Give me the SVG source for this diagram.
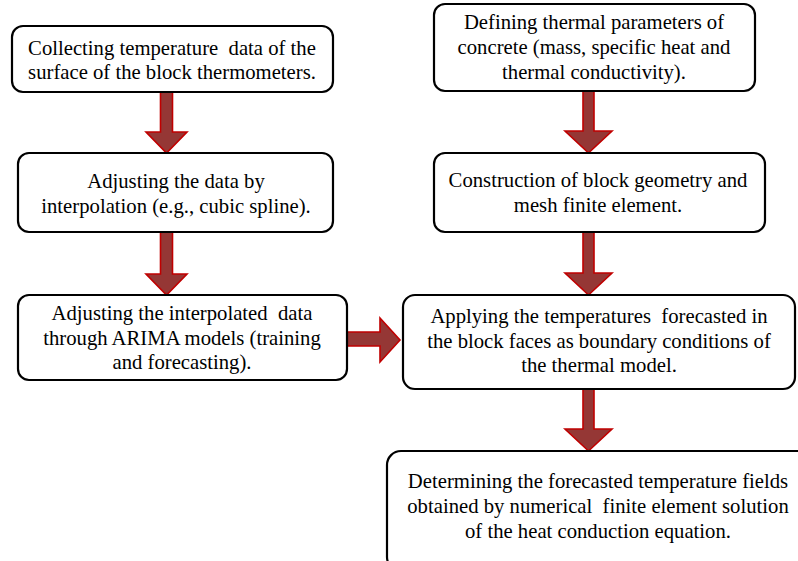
<svg xmlns="http://www.w3.org/2000/svg" width="798" height="561" viewBox="0 0 798 561">
<style>
.box{fill:#fff;stroke:#000;stroke-width:2.2}
.t{font-family:"Liberation Serif","Times New Roman",serif;font-size:20.7px;fill:#000;text-anchor:middle;white-space:pre}
.arr{fill:#953735;stroke:#c00000;stroke-width:1.6;stroke-linejoin:miter}
</style>
<rect width="798" height="561" fill="#fff"/>
<g id="connectors">
<path class="arr" d="M160.5,92 H172.5 V132 H187 L166.5,153 L146,132 H160.5 Z"/>
<path class="arr" d="M160.5,232 H172.5 V274 H187 L166.5,295 L146,274 H160.5 Z"/>
<path class="arr" d="M583,91 H594 V131 H612 L588.5,153 L565,131 H583 Z"/>
<path class="arr" d="M583,232 H594 V273 H612 L588.5,295 L565,273 H583 Z"/>
<path class="arr" d="M583,389 H594 V429 H612 L588.5,451 L565,429 H583 Z"/>
<path class="arr" d="M347,332 H380 V318 L400,340 L380,362 V346 H347 Z"/>
</g>
<g id="n1"><rect class="box" x="12" y="26" width="321" height="66" rx="11"/>
<text class="t" x="172" y="55">Collecting temperature  data of the</text>
<text class="t" x="172" y="79">surface of the block thermometers.</text></g>
<g id="n2"><rect class="box" x="18" y="153" width="315" height="79" rx="11"/>
<text class="t" x="176" y="188">Adjusting the data by</text>
<text class="t" x="176" y="213">interpolation (e.g., cubic spline).</text></g>
<g id="n3"><rect class="box" x="18" y="295" width="329" height="85" rx="11"/>
<text class="t" x="182" y="320">Adjusting the interpolated  data</text>
<text class="t" x="182" y="345">through ARIMA models (training</text>
<text class="t" x="182" y="369">and forecasting).</text></g>
<g id="n4"><rect class="box" x="434" y="4" width="321" height="87" rx="11"/>
<text class="t" x="594" y="29">Defining thermal parameters of</text>
<text class="t" x="594" y="54">concrete (mass, specific heat and</text>
<text class="t" x="594" y="79">thermal conductivity).</text></g>
<g id="n5"><rect class="box" x="434" y="153" width="331" height="79" rx="11"/>
<text class="t" x="598" y="187">Construction of block geometry and</text>
<text class="t" x="598" y="212">mesh finite element.</text></g>
<g id="n6"><rect class="box" x="403" y="295" width="392" height="94" rx="12"/>
<text class="t" x="599" y="323">Applying the temperatures  forecasted in</text>
<text class="t" x="599" y="348">the block faces as boundary conditions of</text>
<text class="t" x="599" y="372">the thermal model.</text></g>
<g id="n7"><rect class="box" x="387" y="451" width="425" height="120" rx="14"/>
<text class="t" x="598" y="488">Determining the forecasted temperature fields</text>
<text class="t" x="598" y="513">obtained by numerical  finite element solution</text>
<text class="t" x="598" y="538">of the heat conduction equation.</text></g>
</svg>
